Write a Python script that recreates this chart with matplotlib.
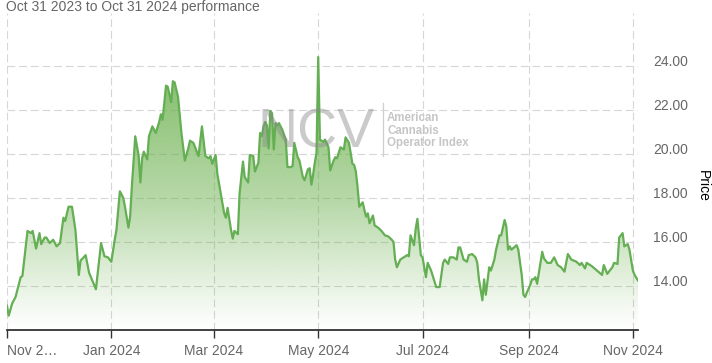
import matplotlib
matplotlib.use("Agg")
import matplotlib.pyplot as plt
import matplotlib.dates as mdates
import matplotlib.transforms as mtransforms
from matplotlib.path import Path
from matplotlib.patches import PathPatch
from matplotlib.colors import to_rgb
import numpy as np
import pandas as pd

plt.rcParams['font.family'] = ['Liberation Sans', 'DejaVu Sans']

# ---------------- data ----------------
dates = [
    "2023-11-01", "2023-11-02", "2023-11-04", "2023-11-06", "2023-11-09", "2023-11-10",
    "2023-11-13", "2023-11-15", "2023-11-16", "2023-11-18", "2023-11-20", "2023-11-21",
    "2023-11-23", "2023-11-24", "2023-11-26", "2023-11-28", "2023-11-30", "2023-12-02",
    "2023-12-04", "2023-12-05", "2023-12-07", "2023-12-09", "2023-12-11", "2023-12-13",
    "2023-12-14", "2023-12-17", "2023-12-19", "2023-12-23", "2023-12-26", "2023-12-28",
    "2023-12-30", "2024-01-01", "2024-01-03", "2024-01-04", "2024-01-06", "2024-01-08",
    "2024-01-09", "2024-01-11", "2024-01-12", "2024-01-13", "2024-01-15", "2024-01-17",
    "2024-01-18", "2024-01-19", "2024-01-20", "2024-01-22", "2024-01-23", "2024-01-25",
    "2024-01-27", "2024-01-29", "2024-01-30", "2024-01-31", "2024-02-02", "2024-02-03",
    "2024-02-05", "2024-02-06", "2024-02-07", "2024-02-09", "2024-02-11", "2024-02-13",
    "2024-02-15", "2024-02-16", "2024-02-18", "2024-02-21", "2024-02-23", "2024-02-25",
    "2024-02-27", "2024-02-28", "2024-02-29", "2024-03-02", "2024-03-03", "2024-03-05",
    "2024-03-07", "2024-03-08", "2024-03-09", "2024-03-11", "2024-03-12", "2024-03-13",
    "2024-03-15", "2024-03-16", "2024-03-18", "2024-03-19", "2024-03-21", "2024-03-22",
    "2024-03-24", "2024-03-25", "2024-03-27", "2024-03-28", "2024-03-29", "2024-03-30",
    "2024-03-31", "2024-04-01", "2024-04-02", "2024-04-03", "2024-04-04", "2024-04-05",
    "2024-04-06", "2024-04-07", "2024-04-08", "2024-04-10", "2024-04-12", "2024-04-13",
    "2024-04-15", "2024-04-16", "2024-04-17", "2024-04-19", "2024-04-20", "2024-04-22",
    "2024-04-23", "2024-04-25", "2024-04-26", "2024-04-27", "2024-04-28", "2024-04-29",
    "2024-04-30", "2024-05-01", "2024-05-02", "2024-05-04", "2024-05-05", "2024-05-07",
    "2024-05-08", "2024-05-10", "2024-05-11", "2024-05-12", "2024-05-14", "2024-05-16",
    "2024-05-17", "2024-05-19", "2024-05-21", "2024-05-22", "2024-05-23", "2024-05-24",
    "2024-05-25", "2024-05-27", "2024-05-28", "2024-05-29", "2024-05-30", "2024-05-31",
    "2024-06-02", "2024-06-03", "2024-06-05", "2024-06-07", "2024-06-09", "2024-06-11",
    "2024-06-13", "2024-06-14", "2024-06-15", "2024-06-16", "2024-06-18", "2024-06-20",
    "2024-06-22", "2024-06-23", "2024-06-24", "2024-06-26", "2024-06-27", "2024-06-28",
    "2024-06-30", "2024-07-01", "2024-07-03", "2024-07-04", "2024-07-06", "2024-07-09",
    "2024-07-11", "2024-07-13", "2024-07-14", "2024-07-16", "2024-07-17", "2024-07-19",
    "2024-07-21", "2024-07-22", "2024-07-23", "2024-07-25", "2024-07-27", "2024-07-28",
    "2024-07-30", "2024-08-01", "2024-08-02", "2024-08-03", "2024-08-05", "2024-08-06",
    "2024-08-07", "2024-08-09", "2024-08-10", "2024-08-12", "2024-08-13", "2024-08-15",
    "2024-08-16", "2024-08-18", "2024-08-19", "2024-08-20", "2024-08-21", "2024-08-22",
    "2024-08-25", "2024-08-26", "2024-08-28", "2024-08-29", "2024-08-30", "2024-08-31",
    "2024-09-02", "2024-09-03", "2024-09-04", "2024-09-05", "2024-09-06", "2024-09-09",
    "2024-09-10", "2024-09-12", "2024-09-14", "2024-09-16", "2024-09-18", "2024-09-20",
    "2024-09-22", "2024-09-24", "2024-09-26", "2024-09-29", "2024-10-01", "2024-10-02",
    "2024-10-04", "2024-10-05", "2024-10-08", "2024-10-11", "2024-10-14", "2024-10-15",
    "2024-10-17", "2024-10-20", "2024-10-21", "2024-10-23", "2024-10-24", "2024-10-26",
    "2024-10-27", "2024-10-29", "2024-10-30", "2024-11-01", "2024-11-02", "2024-11-04",
]
prices = [
    13.1, 12.65, 13.2, 13.5, 14.4, 14.45,
    16.5, 16.4, 16.5, 15.7, 16.4, 15.9,
    16.2, 16.2, 15.95, 16.1, 15.8, 15.95,
    17.1, 16.95, 17.6, 17.6, 16.55, 14.5,
    15.15, 15.4, 14.6, 13.85, 15.95, 15.35,
    15.3, 15.1, 16.1, 16.55, 18.3, 18.0,
    17.6, 16.65, 17.15, 18.5, 20.8, 19.9,
    18.7, 19.8, 20.1, 19.75, 20.8, 21.25,
    20.95, 21.45, 21.8, 21.55, 23.1, 23.05,
    22.35, 23.3, 23.25, 22.6, 20.95, 19.7,
    20.25, 20.6, 20.5, 19.9, 21.25, 19.9,
    19.8, 19.9, 19.55, 19.95, 19.1, 18.2,
    17.3, 17.1, 17.55, 16.55, 16.15, 16.5,
    16.35, 18.2, 19.65, 18.95, 18.7, 19.95,
    19.9, 19.2, 19.6, 20.95, 20.8, 21.25,
    21.45, 21.3, 20.25, 21.95, 21.85, 20.2,
    21.4, 21.3, 21.4, 21.1, 20.65, 19.4,
    19.4, 19.45, 20.5, 19.85, 19.7, 18.95,
    18.8, 19.3, 19.35, 18.6, 19.05, 19.6,
    20.05, 24.4, 20.65, 20.55, 20.65, 20.3,
    19.25, 19.7, 19.85, 19.8, 20.3, 20.2,
    20.75, 20.5, 19.55, 19.5, 19.2, 18.5,
    17.6, 17.8, 17.45, 17.15, 17.3, 16.85,
    17.2, 16.75, 16.65, 16.5, 16.3, 16.25,
    16.1, 16.0, 15.2, 14.85, 15.2, 15.3,
    15.4, 15.35, 16.3, 15.85, 16.6, 17.05,
    15.4, 15.3, 14.4, 15.05, 14.7, 13.95,
    13.95, 15.05, 15.2, 15.0, 15.3, 15.3,
    15.2, 15.75, 15.75, 15.2, 15.1, 15.4,
    15.45, 15.3, 15.05, 14.3, 13.35, 14.3,
    13.6, 14.85, 14.7, 15.2, 15.65, 16.3,
    16.3, 17.0, 16.7, 15.65, 15.8, 15.65,
    15.85, 15.65, 14.5, 13.6, 13.5, 13.7,
    14.05, 14.3, 14.3, 14.4, 14.1, 15.55,
    15.25, 15.05, 15.05, 15.3, 14.95, 14.85,
    14.65, 15.45, 15.2, 15.1, 14.95, 15.05,
    14.8, 15.05, 14.9, 14.7, 14.5, 14.95,
    14.55, 14.85, 15.05, 15.0, 16.2, 16.4,
    15.8, 15.9, 15.65, 14.7, 14.5, 14.25,
]

title_text = "Oct 31 2023 to Oct 31 2024 performance"
y_ticks = [14, 16, 18, 20, 22, 24]
x_tick_dates = ["2023-11-01", "2024-01-01", "2024-03-01", "2024-05-01",
                "2024-07-01", "2024-09-01", "2024-11-01"]
x_tick_labels = ["Nov 2\u2026", "Jan 2024", "Mar 2024", "May 2024",
                 "Jul 2024", "Sep 2024", "Nov 2024"]
y_axis_title = "Price"
watermark_big = "NCV"
watermark_small = ["American", "Cannabis", "Operator Index"]

# ---------------- style ----------------
W, H = 712, 363
line_color = "#64ae53"
fill_color = "#6ab04c"
grid_color = "#d6d6d6"
label_color = "#666666"
y_min, y_max = 12, 26.4

fig = plt.figure(figsize=(W / 100, H / 100), dpi=100)
ax = fig.add_axes([7 / W, 1 - 330 / H, 631 / W, 317 / H])

x = pd.to_datetime(dates)
xn = mdates.date2num(x)
p = np.asarray(prices, dtype=float)

# gradient fill under the line
verts = np.vstack([np.column_stack([xn, p]), [[xn[-1], y_min], [xn[0], y_min]]])
clip = PathPatch(Path(verts), facecolor="none", edgecolor="none", transform=ax.transData)
ax.add_patch(clip)
n = 300
f = np.linspace(1, 0, n)  # top -> bottom
alpha = np.interp(f, [0, 0.1, 0.4, 0.73, 1.0], [0.0, 0.11, 0.48, 0.75, 0.88])
rgba = np.zeros((n, 1, 4))
rgba[..., :3] = to_rgb(fill_color)
rgba[..., 3] = alpha[:, None]
im = ax.imshow(rgba, extent=[xn[0], xn[-1], y_min, y_max], aspect="auto",
               origin="upper", zorder=1, interpolation="bilinear")
im.set_clip_path(clip)

ax.plot(x, p, color=line_color, lw=1.6, zorder=3, solid_joinstyle="round")

ax.set_xlim(xn[0], xn[-1])
ax.set_ylim(y_min, y_max)

# grid
ax.set_axisbelow(True)
tick_pos = mdates.date2num(pd.to_datetime(x_tick_dates))
ax.set_xticks(tick_pos)
ax.set_xticklabels(x_tick_labels)
ax.set_yticks(y_ticks)
ax.set_yticklabels([f"{v:.2f}" for v in y_ticks])
ax.grid(True, color=grid_color, lw=0.8, linestyle=(0, (7, 3.5)))

for s in ["top", "left", "right"]:
    ax.spines[s].set_visible(False)
ax.spines["bottom"].set_color("#333333")
ax.spines["bottom"].set_linewidth(1.3)
ax.spines["bottom"].set_zorder(5)

ax.tick_params(axis="x", length=6, width=1, color="#333333", pad=4,
               labelsize=10, labelcolor=label_color)
ax.tick_params(axis="y", length=0, pad=11, labelsize=10, labelcolor=label_color,
               labelleft=False, labelright=True, left=False, right=False)
xl = ax.get_xticklabels()
xl[0].set_ha("left")
off = mtransforms.ScaledTranslation(0, 5 / 100, fig.dpi_scale_trans)
for lab in ax.get_yticklabels():
    lab.set_transform(lab.get_transform() + off)

# title
fig.text(6 / W, 1 - 11 / H, title_text, ha="left", va="baseline",
         fontsize=10, color="#666666")
# y axis title
fig.text(703 / W, 1 - 186 / H, y_axis_title, rotation=270, ha="center",
         va="center", fontsize=10, color="#000000")

# watermark
fig.text(257 / W, 1 - 148 / H, watermark_big, ha="left", va="baseline",
         fontsize=40, color="#8a8a8a", alpha=0.45, zorder=10)
fig.add_artist(plt.Line2D([383 / W, 383 / W], [1 - 103 / H, 1 - 156 / H],
                          color="#cfcfcf", lw=0.9, transform=fig.transFigure))
for t, yb in zip(watermark_small, [121, 133.5, 146]):
    fig.text(387 / W, 1 - yb / H, t, ha="left", va="baseline", fontsize=8.3,
             fontweight="bold", color="#c6c6c6", zorder=10)

fig.savefig("out.png", dpi=100)
